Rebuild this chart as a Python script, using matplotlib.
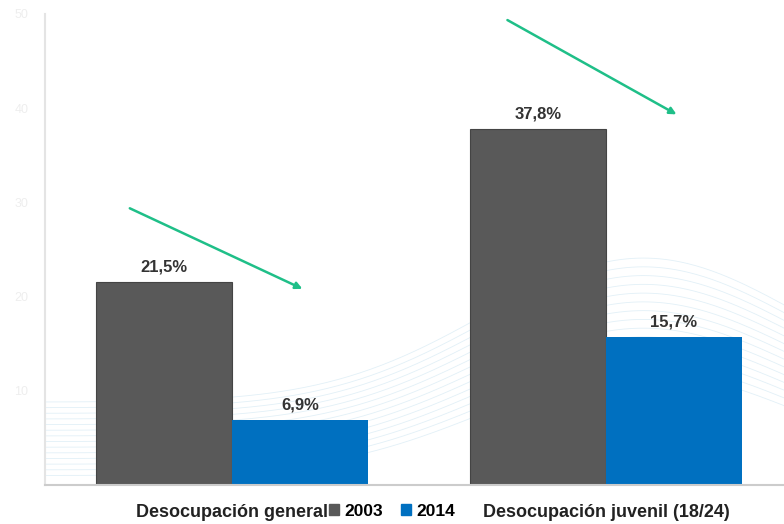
import numpy as np
import matplotlib.pyplot as plt
from matplotlib.patches import Patch

plt.rcParams['font.family'] = ['Liberation Sans', 'DejaVu Sans']

categories = ['Desocupación general', 'Desocupación juvenil (18/24)']
years = ['2003', '2014']
v2003 = [21.5, 37.8]
v2014 = [6.9, 15.7]
yticks = [10, 20, 30, 40, 50]

gray = '#595959'
blue = '#0070C0'
green = '#1FBF88'

fig = plt.figure(figsize=(7.84, 5.24), dpi=100)
ax = fig.add_axes([45/784, 1-485/524, 1-45/784, (485-14)/524])

# faint background waves
xs = np.linspace(-0.6, 1.6, 300)
for k in range(14):
    yy = 1 + k*0.6 + 11*np.exp(-((xs-1.1)/0.6)**2) * (1 + 0.03*k)
    ax.plot(xs, yy, color='#cfe6f2', lw=0.6, alpha=0.6, zorder=0)

x = np.arange(len(categories))
w = 0.364
b1 = ax.bar(x - w/2, v2003, w, color=gray, edgecolor='#444444', lw=0.8, zorder=2)
b2 = ax.bar(x + w/2, v2014, w, color=blue, zorder=2)

for bars, vals in [(b1, v2003), (b2, v2014)]:
    for r, v in zip(bars, vals):
        ax.text(r.get_x() + r.get_width()/2, v + 0.8, f'{v:.1f}%'.replace('.', ','),
                ha='center', va='bottom', fontsize=12, fontweight='bold', color='#333333')

# trend arrows
ax.annotate('', xy=(0.195, 20.7), xytext=(-0.28, 29.5),
            arrowprops=dict(arrowstyle='-|>', color=green, lw=1.8, mutation_scale=10))
ax.annotate('', xy=(1.195, 39.2), xytext=(0.73, 49.5),
            arrowprops=dict(arrowstyle='-|>', color=green, lw=1.8, mutation_scale=10))

ax.set_xlim(-0.5, 1.476)
ax.set_ylim(0, 50)
ax.set_yticks(yticks)
ax.set_yticklabels([str(t) for t in yticks], color='#eeeeee', fontsize=9)
ax.tick_params(axis='y', length=0, pad=12)
ax.set_xticks(x)
ax.set_xticklabels(categories, fontsize=13, fontweight='bold', color='#222222')
ax.tick_params(axis='x', length=0, pad=14)
for s in ['top', 'right']:
    ax.spines[s].set_visible(False)
ax.spines['left'].set_color('#e4e4e4')
ax.spines['left'].set_linewidth(1.5)
ax.spines['bottom'].set_color('#cccccc')
ax.spines['bottom'].set_linewidth(1.5)

handles = [Patch(color=gray), Patch(color=blue)]
leg = fig.legend(handles, years, loc='center', bbox_to_anchor=(0.5, 0.024), ncol=2,
                 frameon=False, handlelength=0.6, handleheight=0.6, handletextpad=0.3,
                 columnspacing=1.0, prop={'weight': 'bold', 'size': 12.5})

fig.savefig('out.png', dpi=100)
